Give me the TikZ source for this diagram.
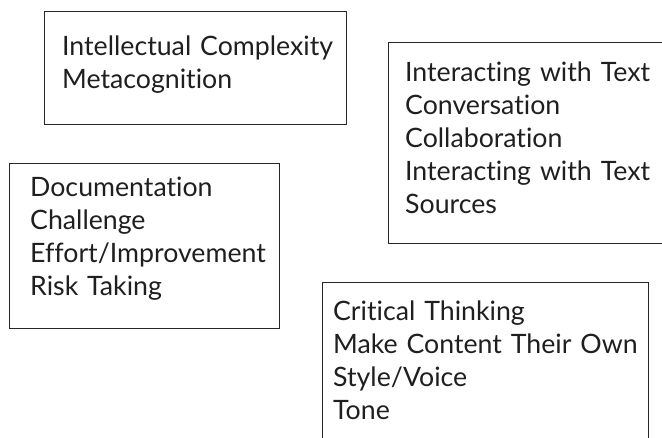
\documentclass[tikz,border=0pt]{standalone}
\usepackage{fontspec}
\setmainfont{Lato}[Ligatures={NoCommon}]
\begin{document}
\begin{tikzpicture}[x=1pt,y=-1pt,
  box/.style={draw=black!85, line width=1.3pt, inner sep=0pt, anchor=north west},
  txt/.style={anchor=base west, inner sep=0pt, text width=330pt, align=left,
    font=\fontsize{26.7}{33}\selectfont, text=black!88}]
\clip (0,0) rectangle (662,438);
\node[box, minimum width=302pt, minimum height=113pt] (b1) at (44,11) {};
\node[box, minimum width=300pt, minimum height=201pt] (b2) at (388,42) {};
\node[box, minimum width=270pt, minimum height=165pt] (b3) at (9,163) {};
\node[box, minimum width=326pt, minimum height=200pt] (b4) at (322,282) {};
\node[txt] (t1) at (62,56) {Intellectual Complexity\\Metacognition};
\node[txt] (t2) at (405,82) {Interacting with Text\\Conversation\\Collaboration\\Interacting with Text\\Sources};
\node[txt] (t3) at (30,197) {Documentation\\Challenge\\Effort/Improvement\\Risk Taking};
\node[txt] (t4) at (333,321) {Critical Thinking\\Make Content Their Own\\Style/Voice\\Tone};
\end{tikzpicture}
\end{document}
